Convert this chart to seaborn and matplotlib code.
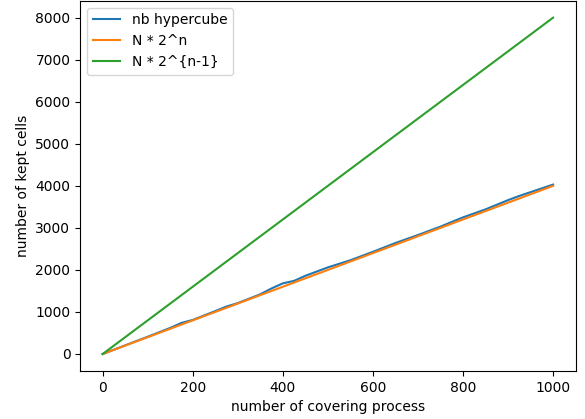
import numpy as np
import pandas as pd
import seaborn as sns
import matplotlib
matplotlib.use("Agg")
import matplotlib.pyplot as plt

x = [0, 50, 100, 150, 175, 200, 250, 275, 300, 350, 375, 400, 425, 450, 500,
     550, 575, 600, 650, 700, 750, 800, 850, 900, 925, 950, 1000]
nb_hypercube = [0, 205, 410, 620, 740, 810, 1020, 1130, 1210, 1420, 1560, 1680, 1740, 1860, 2060,
                2230, 2330, 2430, 2640, 2830, 3030, 3250, 3440, 3660, 3760, 3850, 4030]
n_2n = [v * 4 for v in x]
n_2n1 = [v * 8 for v in x]

df = pd.DataFrame({
    "x": x * 3,
    "y": nb_hypercube + n_2n + n_2n1,
    "series": ["nb hypercube"] * len(x) + ["N * 2^n"] * len(x) + ["N * 2^{n-1}"] * len(x),
})

fig, ax = plt.subplots(figsize=(5.85, 4.19), dpi=100)
sns.lineplot(data=df, x="x", y="y", hue="series",
             palette=["#1f77b4", "#ff7f0e", "#2ca02c"], linewidth=1.5, ax=ax)
ax.set_xlabel("number of covering process")
ax.set_ylabel("number of kept cells")
ax.set_xticks([0, 200, 400, 600, 800, 1000])
ax.set_yticks(range(0, 8001, 1000))
ax.legend(loc="upper left")
fig.subplots_adjust(left=0.137, right=0.984, bottom=0.115, top=0.998)
fig.savefig("out.png", dpi=100)
